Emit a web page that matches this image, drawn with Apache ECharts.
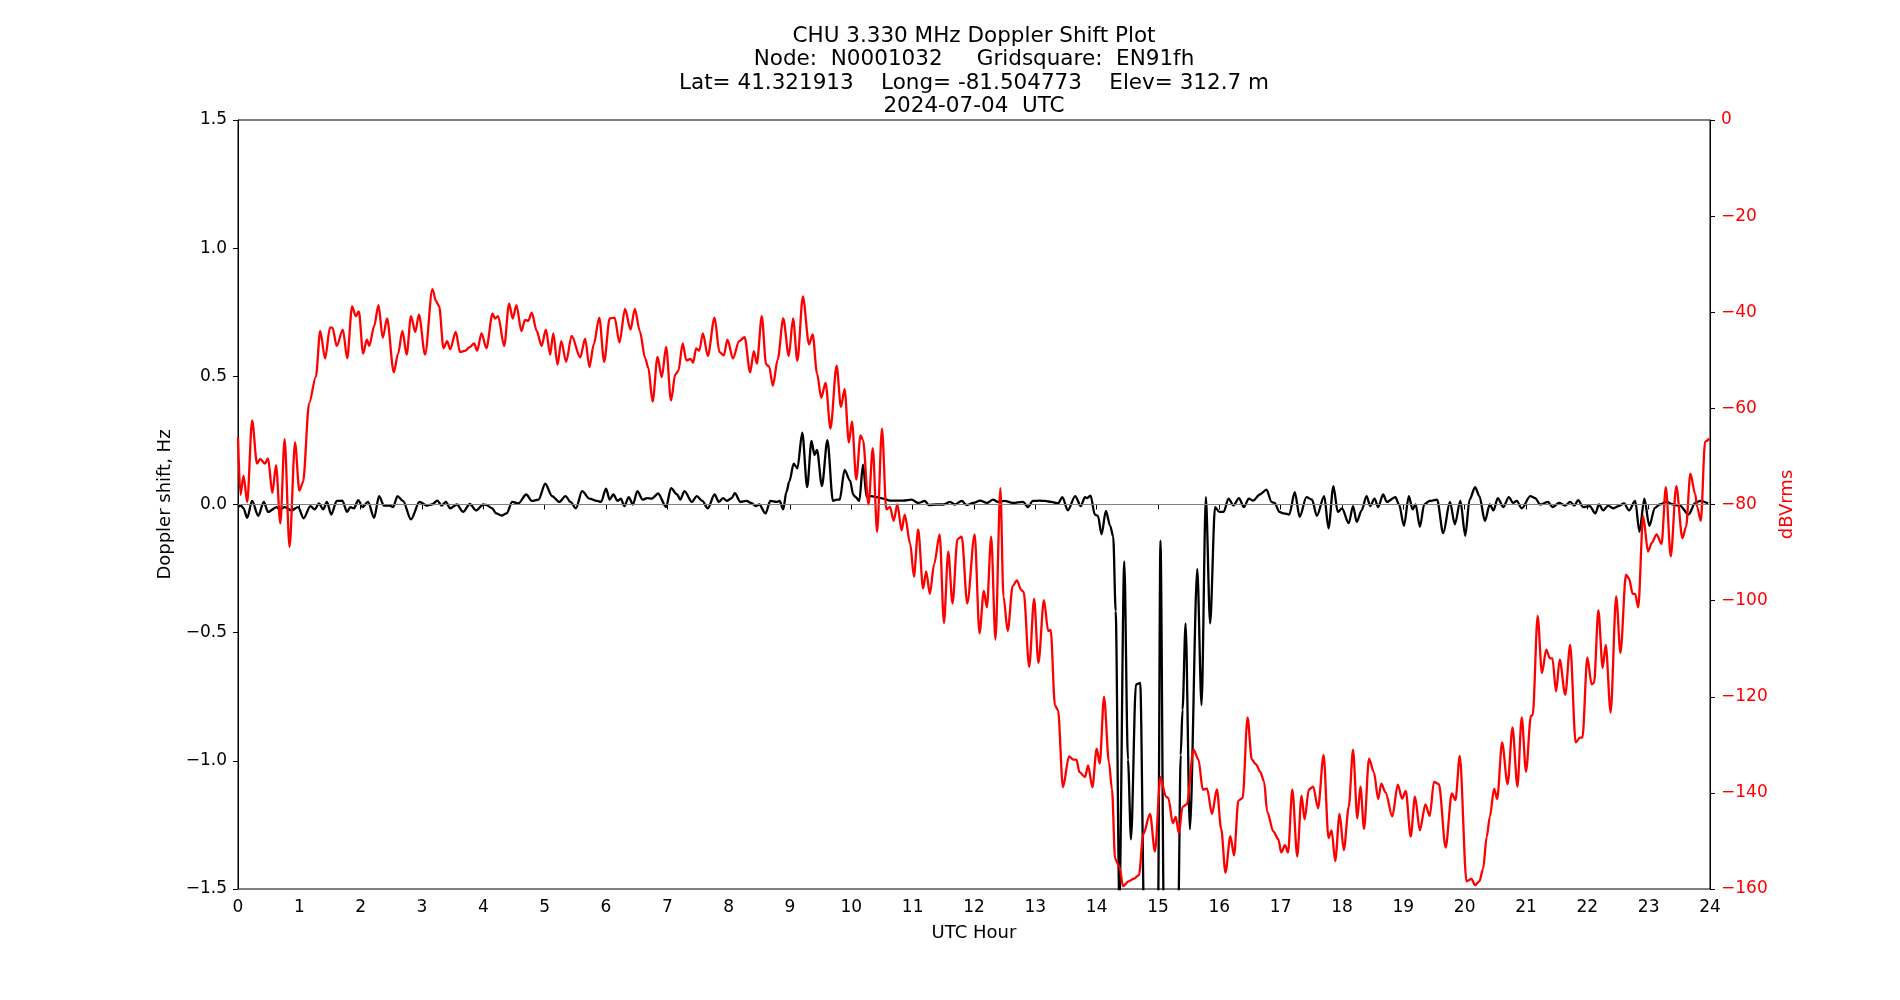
<!DOCTYPE html>
<html>
<head>
<meta charset="utf-8">
<script src="https://cdn.jsdelivr.net/npm/echarts@6/dist/echarts.min.js"></script>
<style>
html,body{margin:0;padding:0;background:#fff;}
#chart{width:1900px;height:1000px;}
</style>
</head>
<body>
<div id="chart"></div>
<script>
// doppler shift (black, left axis)
var dopHours = [0.00,0.05,0.09,0.15,0.23,0.33,0.42,0.49,0.63,0.68,0.76,0.87,0.98,1.07,1.18,1.25,1.32,1.39,1.45,1.52,1.61,1.70,1.78,1.83,1.89,1.96,2.03,2.12,2.22,2.30,2.38,2.47,2.53,2.60,2.69,2.82,2.96,3.08,3.16,3.25,3.32,3.39,3.46,3.57,3.67,3.78,3.88,4.00,
  4.05,4.14,4.21,4.30,4.38,4.47,4.57,4.70,4.79,4.90,5.01,5.12,5.24,5.34,5.42,5.51,5.61,5.73,5.85,5.92,6.00,6.06,6.12,6.19,6.24,6.30,6.37,6.44,6.51,6.60,6.67,6.75,6.85,6.98,7.06,7.16,7.21,7.28,7.40,7.48,7.57,7.66,7.77,7.84,7.91,7.97,
  8.05,8.10,8.19,8.29,8.37,8.44,8.50,8.60,8.68,8.78,8.83,8.89,8.94,8.99,9.06,9.12,9.20,9.28,9.35,9.40,9.44,9.52,9.61,9.70,9.76,9.81,9.89,9.98,10.03,10.07,10.13,10.19,10.25,10.33,10.41,10.52,10.63,10.74,10.85,10.98,11.09,11.20,11.26,11.39,11.50,11.61,11.69,11.80,11.88,11.99,
  12.10,12.21,12.31,12.39,12.50,12.63,12.80,12.88,12.96,13.07,13.15,13.26,13.37,13.44,13.53,13.65,13.74,13.81,13.84,13.90,13.97,14.02,14.08,14.15,14.22,14.27,14.31,14.37,14.45,14.51,14.56,14.64,14.71,14.78,14.90,15.00,15.04,15.10,15.22,15.33,15.37,15.40,15.45,15.52,15.64,15.71,15.78,15.85,15.93,16.00,16.07,16.15,
  16.23,16.32,16.40,16.48,16.55,16.66,16.77,16.85,16.90,16.98,17.05,17.14,17.23,17.31,17.42,17.51,17.59,17.71,17.78,17.86,17.93,18.00,18.11,18.18,18.24,18.32,18.40,18.46,18.53,18.59,18.67,18.73,18.87,18.93,19.01,19.09,19.15,19.20,19.27,19.34,19.43,19.55,19.65,19.76,19.84,19.93,20.01,20.08,20.17,20.24,
  20.33,20.41,20.47,20.54,20.63,20.72,20.79,20.85,20.93,21.07,21.15,21.23,21.36,21.43,21.54,21.64,21.72,21.79,21.85,21.93,22.04,22.13,22.19,22.26,22.34,22.42,22.51,22.60,22.68,22.78,22.85,22.93,23.01,23.10,23.18,23.29,23.40,23.51,23.65,23.76,23.84,23.97];
var dopHz = [-0.010,-0.004,-0.015,-0.052,0.014,-0.044,0.010,-0.029,-0.010,-0.019,-0.010,-0.023,-0.010,-0.054,-0.006,-0.019,0.004,-0.019,0.010,-0.039,0.014,0.015,-0.029,-0.010,-0.015,0.017,-0.010,0.010,-0.052,0.033,-0.004,-0.004,-0.010,0.033,0.014,-0.058,0.010,-0.004,0,0.015,-0.004,0.010,-0.015,0,-0.029,0.002,-0.023,0,
  -0.002,-0.014,-0.035,-0.043,-0.035,0.010,0.004,0.039,0.014,0.019,0.081,0.033,0.010,0.033,0.010,-0.015,0.052,0.023,0.014,0.010,0.062,0.019,0.039,0.014,0.023,-0.006,0.029,0,0.052,0.019,0.025,0.023,0.043,-0.010,0.064,0.039,0.019,0.052,0.010,0.033,0.014,-0.015,0.039,0.010,0.025,0.014,
  0.025,0.044,0.010,0.014,0.006,-0.006,0,-0.035,0.014,0.010,0.014,-0.019,0.048,0.091,0.159,0.141,0.280,0.068,0.248,0.193,0.213,0.072,0.251,0.014,0.019,0.019,0.135,0.093,0.039,0.029,0.014,0.155,0.029,0.033,0.029,0.023,0.015,0.015,0.015,0.019,0.006,0.014,-0.002,0,0,0.010,0,0.014,-0.002,0.006,
  0.015,0.006,0.019,0.010,0.014,0.006,0.010,-0.010,0.014,0.015,0.014,0.010,0.004,0.029,-0.023,0.033,-0.006,0.029,0.025,0.035,-0.039,-0.044,-0.116,-0.025,-0.083,-0.126,-0.416,-1.55,-0.222,-0.996,-1.306,-0.702,-0.696,-1.7,-1.9,-1.6,-0.141,-1.7,-1.9,-1.6,-0.977,-0.80,-0.464,-1.267,-0.251,-0.783,0.029,-0.464,-0.010,-0.029,-0.029,0.023,
  -0.004,0.025,-0.010,0.023,0.015,0.039,0.058,0.010,0.006,-0.029,-0.035,-0.039,0.048,-0.048,0.029,0.019,-0.044,0.033,-0.093,0.072,-0.029,-0.015,-0.073,-0.006,-0.068,-0.023,0.033,-0.006,0.023,-0.010,0.039,0.010,0.029,0,-0.083,0.033,-0.019,0,-0.087,0,0.014,0.019,-0.112,0.010,-0.077,0.014,-0.122,0.019,0.068,0.033,
  -0.064,0,-0.023,0.025,-0.010,0.029,0.006,0.014,-0.015,0.033,0.025,0,0.010,-0.010,0.006,-0.004,0.010,-0.004,0.017,-0.010,-0.006,-0.035,0,-0.023,-0.004,-0.015,-0.006,0.004,-0.023,0.014,-0.106,0.023,-0.083,-0.014,0,0.010,0,-0.004,-0.039,0.006,0.014,0.004];

// signal level (red, right axis)
var pwrHours = [0.00,0.04,0.09,0.15,0.23,0.31,0.36,0.44,0.49,0.56,0.62,0.69,0.76,0.84,0.93,1.00,1.06,1.16,1.27,1.34,1.42,1.50,1.54,1.61,1.71,1.78,1.86,1.92,1.97,2.04,2.10,2.14,2.22,2.29,2.36,2.43,2.54,2.61,2.68,2.75,2.82,2.89,2.95,3.05,3.17,3.23,3.28,3.35,3.41,3.46,3.55,3.62,3.71,3.77,3.85,3.90,3.97,
  4.05,4.15,4.19,4.24,4.34,4.42,4.48,4.54,4.62,4.68,4.73,4.79,4.87,4.95,5.02,5.09,5.14,5.21,5.27,5.35,5.44,5.58,5.66,5.73,5.80,5.89,5.97,6.06,6.14,6.22,6.31,6.40,6.47,6.55,6.64,6.69,6.76,6.84,6.91,6.98,7.06,7.13,7.18,7.25,7.31,7.38,7.42,7.47,7.52,7.58,7.66,7.77,7.85,7.92,7.98,
  8.07,8.17,8.26,8.35,8.41,8.46,8.54,8.61,8.66,8.72,8.80,8.89,8.98,9.05,9.12,9.21,9.31,9.37,9.44,9.51,9.58,9.66,9.76,9.83,9.89,9.96,10.01,10.08,10.15,10.19,10.28,10.35,10.42,10.50,10.57,10.63,10.69,10.75,10.82,10.87,10.96,11.02,11.09,11.17,11.22,11.28,11.35,11.44,11.51,11.58,11.65,11.73,11.80,11.89,12.01,
  12.09,12.16,12.21,12.28,12.35,12.43,12.48,12.55,12.63,12.70,12.77,12.81,12.90,12.98,13.05,13.14,13.21,13.25,13.32,13.37,13.45,13.55,13.62,13.67,13.72,13.81,13.86,13.93,14.00,14.05,14.12,14.20,14.25,14.30,14.37,14.43,14.52,14.60,14.69,14.76,14.87,14.95,15.04,15.13,15.17,15.24,15.29,15.34,15.40,15.47,15.58,15.66,15.73,15.80,15.88,15.96,16.03,16.10,16.18,16.24,
  16.31,16.38,16.46,16.53,16.60,16.67,16.73,16.78,16.88,16.96,17.01,17.07,17.12,17.19,17.27,17.34,17.39,17.46,17.53,17.61,17.70,17.78,17.83,17.89,17.96,18.03,18.11,18.18,18.25,18.30,18.36,18.44,18.52,18.59,18.64,18.71,18.82,18.91,18.98,19.04,19.12,19.19,19.27,19.36,19.43,19.50,19.58,19.69,19.79,19.85,19.92,20.03,20.11,20.17,20.24,
  20.30,20.36,20.41,20.48,20.53,20.61,20.70,20.78,20.86,20.93,21.00,21.08,21.11,21.19,21.26,21.33,21.39,21.43,21.49,21.55,21.64,21.72,21.81,21.88,21.92,22.00,22.07,22.11,22.18,22.25,22.30,22.38,22.47,22.54,22.63,22.68,22.74,22.78,22.83,22.91,22.99,23.05,23.13,23.21,23.28,23.36,23.45,23.55,23.61,23.68,23.76,23.79,23.85,23.92,23.99];
var pwrDb = [-66,-78,-74,-79.5,-62.5,-71.5,-70.5,-71.5,-70.4,-77.6,-71.8,-83.9,-66.4,-88.8,-67.1,-77.1,-75.4,-58.9,-53.4,-43.9,-49.6,-43.2,-43.2,-47,-43.6,-49.6,-38.8,-40.8,-39.8,-48.6,-45.7,-47,-42.9,-38.5,-45.3,-41.3,-52.5,-48.6,-43.9,-48.8,-40.8,-44.1,-40.5,-48.8,-35.2,-37.7,-38.8,-47.5,-46,-47.7,-44.1,-48.3,-48,-47.3,-46.5,-48,-44.4,
  -47.5,-40.3,-41.3,-40.8,-47,-38.2,-41.3,-38.5,-43.9,-41.6,-41.8,-40.1,-43.9,-47,-43.6,-48.8,-44.4,-50.9,-46,-50.3,-44.9,-49.4,-45.5,-51.4,-46.7,-41.1,-50.3,-41.3,-41.1,-46.3,-39.3,-43.6,-39.3,-43.9,-49.6,-51.6,-58.6,-49.3,-53.5,-47.2,-58.4,-52.9,-52.2,-46.5,-50,-49.7,-50.5,-47.5,-48,-44.4,-49.1,-41.1,-48.3,-49,-45.7,
  -49.6,-46,-45.2,-52.5,-48.1,-50.7,-40.8,-50.8,-51.3,-55.3,-49.8,-41.3,-49.1,-41.3,-50.1,-36.7,-46.7,-44.6,-52.7,-57.8,-54.7,-64.2,-51.1,-59.7,-56,-67.1,-62.7,-74.8,-65.6,-66.6,-80,-68.3,-85.7,-64.2,-81,-80.5,-83.4,-80,-85.4,-82.1,-88.2,-95,-85.2,-97.5,-93.9,-98.6,-92.4,-86.2,-104.7,-89.8,-100.6,-87.2,-86.7,-100.6,-86.2,
  -106.8,-98,-101.4,-86.7,-108.1,-76.6,-99.1,-106.3,-97,-95.8,-97.8,-98.2,-113.8,-99.6,-113,-99.9,-106.3,-106.1,-121.8,-122.8,-138.8,-132.4,-133.1,-133.1,-135.7,-136.7,-134.3,-138.8,-130.8,-133.9,-120,-133.6,-139.3,-153.7,-155.3,-159.4,-158.4,-157.9,-157.1,-148.6,-144.4,-152.2,-136.7,-140.8,-141.1,-146.3,-145,-148.4,-142.9,-142.4,-131,-133.1,-139.3,-139.1,-144.4,-139.3,-147.5,-156.6,-149,-153,
  -141.6,-141.1,-124.3,-133.1,-134.1,-135.7,-137.7,-143.9,-148,-149.6,-152.4,-150.9,-152.4,-139.3,-153.2,-140.6,-145.5,-139.3,-138.7,-143.2,-132.1,-149.4,-147.8,-154.2,-144.4,-151.9,-142.9,-131,-145.3,-138.7,-147.5,-132.9,-135.7,-141.3,-138.1,-139.9,-144.9,-138.3,-141.2,-139.6,-149.1,-140.8,-147.8,-142.4,-144.8,-137.7,-138.2,-151.4,-140.1,-141.5,-132.3,-158.4,-157.9,-159.2,-158.4,
  -155.8,-149.1,-145,-139.1,-141.3,-129.5,-138.2,-126.4,-138.7,-124.3,-135.6,-124,-123.8,-103.2,-115.1,-110.2,-112,-112,-118.9,-112.3,-119.6,-109.2,-129.5,-128.5,-128.5,-111.8,-117.4,-117.1,-102,-114,-109.2,-123.3,-99.1,-110.9,-94.6,-95.4,-98.6,-98.6,-101.4,-82.4,-89.8,-88,-86.2,-88.2,-76.4,-90.8,-76.2,-87,-84.6,-73.6,-77.9,-80.5,-83.4,-66.9,-66.3];

var titleLines = [
    'CHU 3.330 MHz Doppler Shift Plot',
    'Node:  N0001032     Gridsquare:  EN91fh',
    'Lat= 41.321913    Long= -81.504773    Elev= 312.7 m',
    '2024-07-04  UTC'
];

function pairs(xs, ys) {
    var out = [];
    for (var i = 0; i < xs.length; i++) {
        out.push([xs[i], ys[i]]);
    }
    return out;
}

function minus(s) {
    return String(s).replace('-', '\u2212');
}

var font = 'DejaVu Sans';
var fs = 17;
var nameFs = 18;

var option = {
    animation: false,
    textStyle: {fontFamily: font},
    title: {
        text: titleLines.join('\n'),
        left: 974,
        top: 25,
        padding: 0,
        textAlign: 'center',
        textStyle: {
            fontFamily: font,
            fontSize: 21.5,
            fontWeight: 'normal',
            lineHeight: 23.2,
            color: '#000'
        }
    },
    grid: {
        left: 238,
        right: 190,
        top: 120,
        bottom: 111,
        show: true,
        borderColor: '#000',
        borderWidth: 1
    },
    xAxis: {
        type: 'value',
        min: 0,
        max: 24,
        interval: 1,
        name: 'UTC Hour',
        nameLocation: 'middle',
        nameGap: 35,
        nameTextStyle: {fontSize: nameFs, color: '#000', fontFamily: font},
        axisLine: {show: true, lineStyle: {color: '#000', width: 1}},
        axisTick: {show: true, length: 5, lineStyle: {color: '#000'}},
        axisLabel: {fontSize: fs, color: '#000', margin: 10, fontFamily: font},
        splitLine: {show: false}
    },
    yAxis: [
        {
            type: 'value',
            position: 'left',
            min: -1.5,
            max: 1.5,
            interval: 0.5,
            name: 'Doppler shift, Hz',
            nameLocation: 'middle',
            nameGap: 57,
            nameTextStyle: {fontSize: nameFs, color: '#000', fontFamily: font},
            axisLine: {show: true, lineStyle: {color: '#000', width: 1}},
            axisTick: {show: true, length: 5, lineStyle: {color: '#000'}},
            axisLabel: {
                fontSize: fs, color: '#000', margin: 11, fontFamily: font,
                formatter: function (v) { return minus(v.toFixed(1)); }
            },
            splitLine: {show: false}
        },
        {
            type: 'value',
            position: 'right',
            min: -160,
            max: 0,
            interval: 20,
            name: 'dBVrms',
            nameLocation: 'middle',
            nameGap: 57,
            nameRotate: 90,
            nameTextStyle: {fontSize: nameFs, color: '#ff0000', fontFamily: font},
            axisLine: {show: true, lineStyle: {color: '#000', width: 1}},
            axisTick: {show: true, length: 5, lineStyle: {color: '#000'}},
            axisLabel: {
                fontSize: fs, color: '#ff0000', margin: 11, fontFamily: font,
                formatter: function (v) { return minus(v); }
            },
            splitLine: {show: false}
        }
    ],
    series: [
        {
            name: 'Doppler',
            type: 'line',
            yAxisIndex: 0,
            data: pairs(dopHours, dopHz),
            showSymbol: false,
            smooth: 0.3,
            smoothMonotone: 'x',
            clip: true,
            lineStyle: {color: '#000', width: 2.3},
            z: 2,
            markLine: {
                silent: true,
                symbol: 'none',
                label: {show: false},
                lineStyle: {color: '#808080', width: 1, type: 'solid'},
                data: [{yAxis: 0}]
            }
        },
        {
            name: 'Power',
            type: 'line',
            yAxisIndex: 1,
            data: pairs(pwrHours, pwrDb),
            showSymbol: false,
            smooth: 0.3,
            smoothMonotone: 'x',
            clip: true,
            lineStyle: {color: '#ff0000', width: 2.3},
            z: 3
        }
    ]
};

var myChart = echarts.init(document.getElementById('chart'));
myChart.setOption(option);
</script>
</body>
</html>
